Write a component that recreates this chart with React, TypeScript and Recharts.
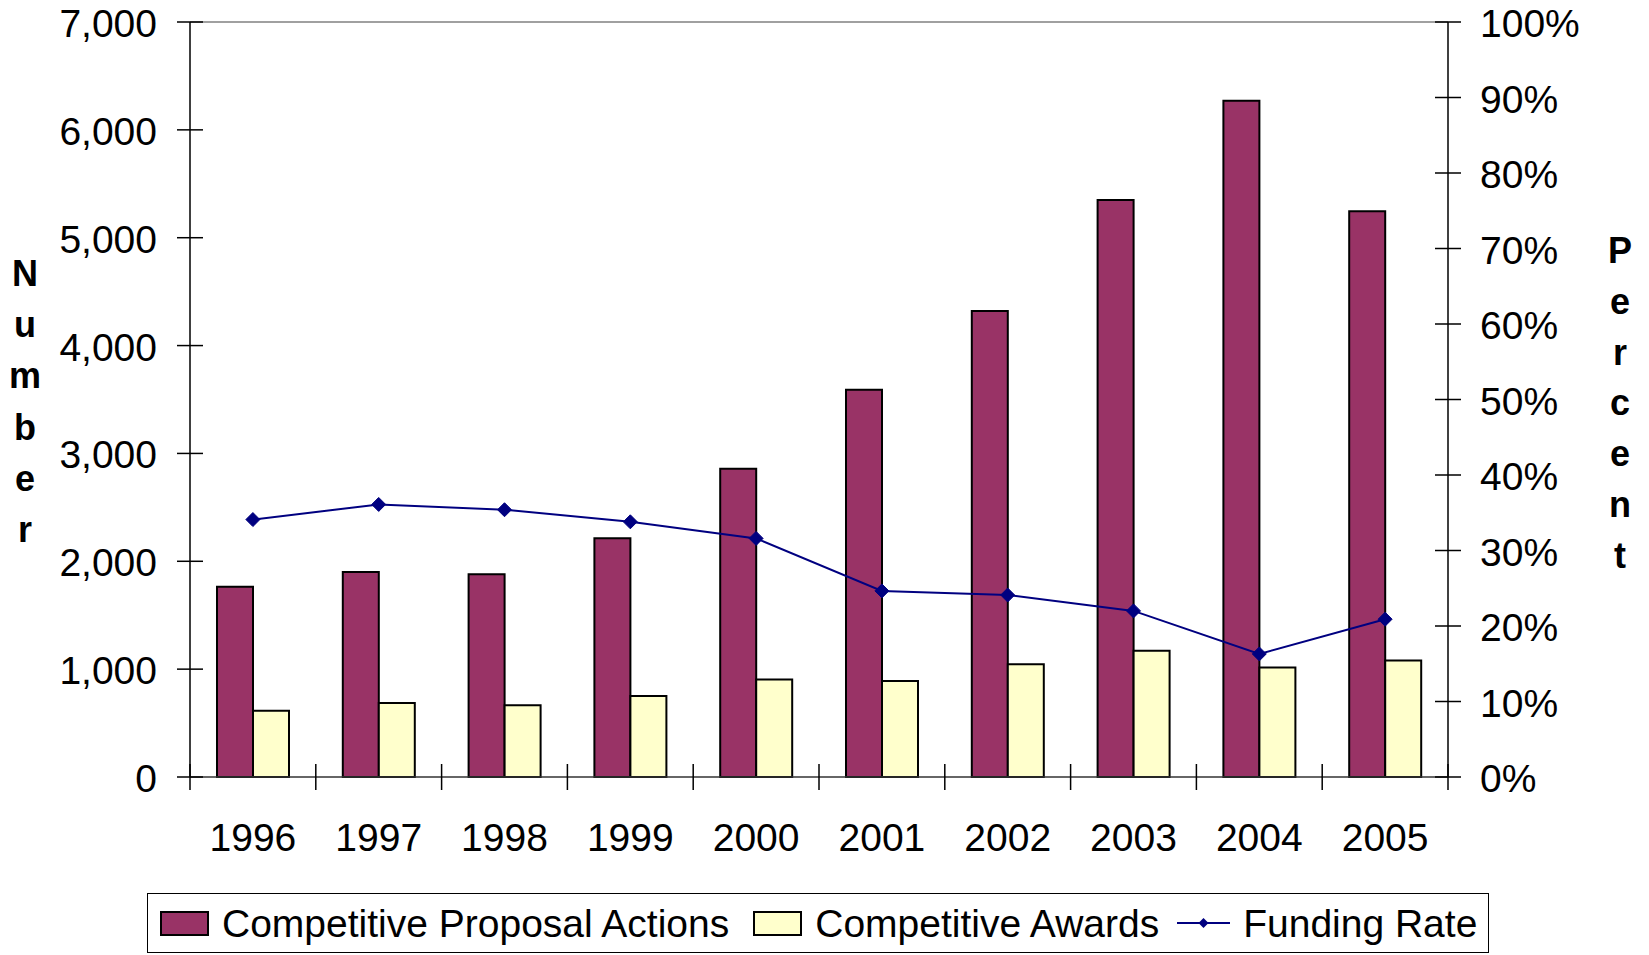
import React from 'react';
import {
  ComposedChart,
  Bar,
  Line,
  XAxis,
  YAxis,
  Legend,
  ReferenceLine,
  Customized,
} from 'recharts';

const years = ['1996', '1997', '1998', '1999', '2000', '2001', '2002', '2003', '2004', '2005'];
const proposalActions = [1765, 1900, 1880, 2213, 2857, 3590, 4320, 5350, 6270, 5245];
const competitiveAwards = [615, 685, 665, 750, 905, 890, 1045, 1170, 1015, 1080];
const fundingRate = [0.341, 0.361, 0.354, 0.338, 0.316, 0.2465, 0.241, 0.22, 0.163, 0.209];

const numberTicks = [0, 1000, 2000, 3000, 4000, 5000, 6000, 7000];
const percentTicks = [0, 0.1, 0.2, 0.3, 0.4, 0.5, 0.6, 0.7, 0.8, 0.9, 1];

const seriesNames = ['Competitive Proposal Actions', 'Competitive Awards', 'Funding Rate'];
const leftTitle = 'Number';
const rightTitle = 'Percent';

const data = years.map((y, i) => ({
  year: y,
  proposals: proposalActions[i],
  awards: competitiveAwards[i],
  rate: fundingRate[i],
}));

const W = 1649;
const H = 955;
const LEFT_W = 190;
const RIGHT_W = 201;
const TOP = 22;
const PLOT_BOTTOM = 777;
const XAXIS_H = 90;
const BOTTOM_MARGIN = H - PLOT_BOTTOM - XAXIS_H;
const PLOT_W = W - LEFT_W - RIGHT_W;
const BAND = PLOT_W / years.length;

const FONT = '"Liberation Sans", Arial, Helvetica, sans-serif';
const FS = 39;
const PURPLE = '#993366';
const CREAM = '#FFFFCC';
const NAVY = '#000080';
const TICK_HALF = 13;

const fmtNum = (v: number) => v.toLocaleString('en-US');
const fmtPct = (v: number) => `${Math.round(v * 100)}%`;

const LeftTick = (props: any) => {
  const { x, y, payload } = props;
  return (
    <g>
      <line x1={x - TICK_HALF} x2={x + TICK_HALF} y1={y} y2={y} stroke="#000" strokeWidth={1.5} />
      <text x={x - 33} y={y + 15} textAnchor="end" fontFamily={FONT} fontSize={FS} fill="#000">
        {fmtNum(payload.value)}
      </text>
    </g>
  );
};

const RightTick = (props: any) => {
  const { x, y, payload } = props;
  return (
    <g>
      <line x1={x - TICK_HALF} x2={x + TICK_HALF} y1={y} y2={y} stroke="#000" strokeWidth={1.5} />
      <text x={x + 32} y={y + 15} textAnchor="start" fontFamily={FONT} fontSize={FS} fill="#000">
        {fmtPct(payload.value)}
      </text>
    </g>
  );
};

const XTick = (props: any) => {
  const { x, y, payload, index } = props;
  const last = index === years.length - 1;
  return (
    <g>
      <line x1={x - BAND / 2} x2={x - BAND / 2} y1={y - TICK_HALF} y2={y + TICK_HALF} stroke="#000" strokeWidth={1.5} />
      {last && (
        <line x1={x + BAND / 2} x2={x + BAND / 2} y1={y - TICK_HALF} y2={y + TICK_HALF} stroke="#000" strokeWidth={1.5} />
      )}
      <text x={x} y={y + 74} textAnchor="middle" fontFamily={FONT} fontSize={FS} fill="#000">
        {payload.value}
      </text>
    </g>
  );
};

const Diamond = (props: any) => {
  const { cx, cy } = props;
  if (cx == null || cy == null) return null;
  const r = 7;
  return (
    <polygon
      points={`${cx},${cy - r} ${cx + r},${cy} ${cx},${cy + r} ${cx - r},${cy}`}
      fill={NAVY}
      stroke={NAVY}
      strokeWidth={1}
    />
  );
};

const StackedTitles = () => {
  const step = 51.2;
  return (
    <g fontFamily={FONT} fontWeight="bold" fontSize={36} fill="#000">
      {leftTitle.split('').map((ch, i) => (
        <text key={`l${i}`} x={25} y={286 + i * step} textAnchor="middle">
          {ch}
        </text>
      ))}
      {rightTitle.split('').map((ch, i) => (
        <text key={`r${i}`} x={1620} y={263 + i * step * 0.992} textAnchor="middle">
          {ch}
        </text>
      ))}
    </g>
  );
};

const LegendBox = () => {
  const txt: React.CSSProperties = {
    fontFamily: FONT,
    fontSize: FS,
    color: '#000',
    lineHeight: 1,
    whiteSpace: 'nowrap',
  };
  const swatch = (fill: string): React.CSSProperties => ({
    width: 49,
    height: 25,
    boxSizing: 'border-box',
    border: '2px solid #000',
    background: fill,
    marginRight: 13,
    flex: 'none',
  });
  return (
    <div
      style={{
        width: 1342,
        height: 60,
        boxSizing: 'border-box',
        border: '1.5px solid #000',
        background: '#fff',
        display: 'flex',
        alignItems: 'center',
        paddingLeft: 12,
      }}
    >
      <div style={swatch(PURPLE)} />
      <span style={txt}>{seriesNames[0]}</span>
      <div style={{ ...swatch(CREAM), marginLeft: 24 }} />
      <span style={txt}>{seriesNames[1]}</span>
      <svg width={53} height={20} style={{ marginLeft: 18, marginRight: 13, flex: 'none' }}>
        <line x1={0} x2={53} y1={10} y2={10} stroke={NAVY} strokeWidth={2} />
        <polygon points="26.5,5 31.5,10 26.5,15 21.5,10" fill={NAVY} />
      </svg>
      <span style={txt}>{seriesNames[2]}</span>
    </div>
  );
};

export default function App() {
  return (
    <div style={{ position: 'absolute', left: 0, top: 0, width: W, height: H, background: '#fff' }}>
      <ComposedChart
        width={W}
        height={H}
        data={data}
        margin={{ top: TOP, right: 0, bottom: BOTTOM_MARGIN, left: 0 }}
        barGap={0}
      >
        <XAxis
          dataKey="year"
          xAxisId="x"
          interval={0}
          height={XAXIS_H}
          tickLine={false}
          tickSize={0}
          tickMargin={0}
          axisLine={{ stroke: '#333', strokeWidth: 1.5 }}
          tick={<XTick />}
        />
        <YAxis
          yAxisId="left"
          orientation="left"
          width={LEFT_W}
          domain={[0, 7000]}
          ticks={numberTicks}
          interval={0}
          tickLine={false}
          tickSize={0}
          tickMargin={0}
          axisLine={{ stroke: '#000', strokeWidth: 1.5 }}
          tick={<LeftTick />}
        />
        <YAxis
          yAxisId="right"
          orientation="right"
          width={RIGHT_W}
          domain={[0, 1]}
          ticks={percentTicks}
          interval={0}
          tickLine={false}
          tickSize={0}
          tickMargin={0}
          axisLine={{ stroke: '#000', strokeWidth: 1.5 }}
          tick={<RightTick />}
        />
        <ReferenceLine yAxisId="left" xAxisId="x" y={7000} stroke="#808080" strokeWidth={1.5} />
        <Bar
          xAxisId="x"
          yAxisId="left"
          dataKey="proposals"
          name={seriesNames[0]}
          fill={PURPLE}
          stroke="#000"
          strokeWidth={2}
          barSize={36}
          isAnimationActive={false}
        />
        <Bar
          xAxisId="x"
          yAxisId="left"
          dataKey="awards"
          name={seriesNames[1]}
          fill={CREAM}
          stroke="#000"
          strokeWidth={2}
          barSize={36}
          isAnimationActive={false}
        />
        <Line
          xAxisId="x"
          yAxisId="right"
          dataKey="rate"
          name={seriesNames[2]}
          type="linear"
          stroke={NAVY}
          strokeWidth={2}
          dot={<Diamond />}
          activeDot={false}
          isAnimationActive={false}
        />
        <Customized component={<StackedTitles />} />
        <Legend
          layout="horizontal"
          verticalAlign="middle"
          align="center"
          wrapperStyle={{ position: 'absolute', left: 147, top: 893, width: 1342, height: 60 }}
          content={<LegendBox />}
        />
      </ComposedChart>
    </div>
  );
}
